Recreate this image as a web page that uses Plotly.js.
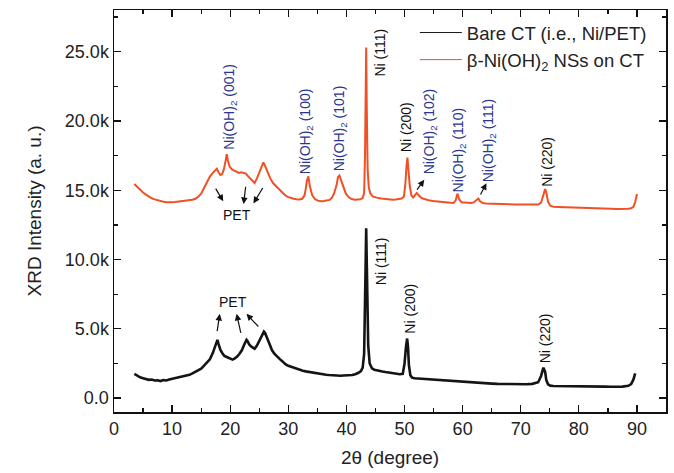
<!DOCTYPE html>
<html>
<head>
<meta charset="utf-8">
<script src="https://cdn.plot.ly/plotly-3.0.1.min.js"></script>
<style>html,body{margin:0;padding:0;background:#fff;}#chart{width:674px;height:473px;}</style>
</head>
<body>
<div id="chart"></div>
<script>
// ---- data ----
const bareX = [3.5,4.0,4.5,5.0,5.5,6.0,6.5,7.0,7.5,8.0,8.5,9.0,9.5,10.0,10.5,11.0,11.5,12.0,12.5,13.0,13.5,14.0,14.5,15.0,15.5,16.0,16.5,17.0,17.3,17.6,17.8,18.0,18.3,18.7,19.0,19.5,20.0,20.4,20.8,21.2,21.6,22.0,22.4,22.8,23.0,23.3,23.7,24.2,24.6,25.0,25.4,25.8,26.0,26.4,26.8,27.2,27.6,28.0,28.5,29.0,29.5,30.0,30.5,31.0,31.5,32.0,32.5,33.0,33.5,34.0,34.5,35.0,35.5,36.0,36.5,37.0,37.5,38.0,38.5,39.0,39.5,40.0,40.5,41.0,41.5,42.0,42.5,42.8,43.05,43.2,43.3,43.4,43.55,43.75,44.0,44.4,44.8,45.2,45.7,46.2,46.7,47.2,47.7,48.2,48.7,49.2,49.7,50.0,50.25,50.45,50.6,50.75,51.0,51.3,51.7,52.3,53.0,54.0,55.0,56.0,57.0,58.0,59.0,60.0,61.0,62.0,63.0,64.0,65.0,66.0,67.0,68.0,69.0,70.0,71.0,72.0,73.0,73.5,73.9,74.2,74.4,74.7,75.1,75.6,76.5,77.5,78.5,79.5,80.5,81.5,82.5,83.5,84.5,85.5,86.5,87.5,88.5,89.0,89.4,89.7,90.0];
const bareY = [1750,1620,1500,1440,1380,1320,1340,1270,1290,1230,1300,1270,1350,1400,1420,1470,1500,1550,1600,1680,1780,1880,2000,2130,2340,2540,2800,3250,3650,4050,4200,3900,3500,3200,3050,2950,2850,2780,2870,3000,3200,3450,3850,4200,4100,3850,3700,3570,3800,4100,4500,4800,4700,4250,3850,3450,3200,3000,2830,2650,2450,2330,2250,2170,2100,2030,1980,1930,1890,1850,1810,1770,1750,1710,1690,1670,1650,1640,1630,1620,1630,1640,1650,1670,1730,1810,1950,2200,3200,6000,9500,12250,8500,3800,2500,2150,2050,2000,1960,1920,1880,1840,1810,1780,1750,1720,1750,2500,3700,4300,3700,2400,1650,1480,1430,1410,1390,1360,1330,1300,1270,1250,1230,1180,1150,1130,1110,1080,1050,1030,1020,1010,1000,990,1000,1030,1150,1600,2200,1900,1300,1000,900,880,880,870,870,860,870,850,840,830,830,820,810,830,890,1010,1350,1780];

const nsX = [3.5,4.0,4.5,5.0,5.5,6.0,6.5,7.0,7.5,8.0,8.5,9.0,9.5,10.0,10.5,11.0,11.5,12.0,12.5,13.0,13.5,14.0,14.5,15.0,15.5,16.0,16.5,17.0,17.4,17.7,18.0,18.3,18.6,18.9,19.2,19.4,19.6,19.9,20.3,20.7,21.1,21.5,21.9,22.3,22.7,23.1,23.5,23.9,24.2,24.6,25.0,25.4,25.7,26.0,26.4,26.9,27.4,27.9,28.4,28.9,29.4,29.9,30.4,30.9,31.4,31.9,32.4,32.8,33.0,33.2,33.45,33.7,34.1,34.6,35.1,35.6,36.1,36.6,37.1,37.5,37.9,38.3,38.55,38.8,39.1,39.5,39.9,40.4,40.9,41.4,41.9,42.4,42.8,43.05,43.2,43.3,43.4,43.5,43.65,43.85,44.1,44.5,45.0,45.5,46.0,46.5,47.0,47.5,48.0,48.5,49.0,49.5,49.9,50.15,50.35,50.5,50.65,50.9,51.2,51.5,51.8,52.1,52.5,52.9,53.4,53.9,54.4,54.9,55.4,55.9,56.4,56.9,57.4,57.9,58.4,58.8,59.1,59.4,59.8,60.4,60.9,61.4,61.9,62.4,62.7,63.0,63.5,64.0,65.0,66.0,67.0,68.0,69.0,70.0,71.0,72.0,73.0,73.5,73.9,74.2,74.4,74.7,75.1,75.6,76.5,77.5,78.5,79.5,80.5,81.5,82.5,83.5,84.5,85.5,86.5,87.5,88.5,89.0,89.4,89.7,90.0];
const nsY = [15450,15250,15000,14830,14680,14540,14420,14340,14270,14220,14170,14140,14110,14130,14150,14170,14200,14230,14250,14270,14310,14380,14530,14750,15150,15550,15980,16250,16420,16550,16300,16100,16150,16500,17100,17600,17150,16700,16500,16400,16300,16250,16300,16230,16200,16000,15850,15650,15520,15850,16250,16750,17000,16750,16350,15850,15500,15280,15080,14850,14650,14520,14440,14390,14350,14330,14380,14650,15100,15700,16000,15300,14650,14350,14250,14200,14220,14250,14300,14450,14800,15350,15950,16050,15650,15150,14750,14490,14360,14320,14310,14340,14450,14800,17500,22500,25300,21000,16500,15200,14800,14550,14470,14430,14400,14370,14350,14330,14320,14330,14350,14400,14550,15500,16800,17350,16600,15300,14600,14480,14650,14800,14600,14450,14370,14300,14250,14220,14190,14160,14140,14120,14100,14090,14080,14250,14750,14350,14130,14100,14090,14080,14120,14300,14400,14200,14070,14050,14020,14000,13990,13980,13970,13960,13950,13940,13960,14100,14600,15080,14850,14150,13880,13810,13790,13780,13770,13760,13760,13740,13720,13700,13690,13660,13640,13640,13660,13700,13800,14150,14720];

const yTickVals = [0,5000,10000,15000,20000,25000];
const yTickText = ["0.0","5.0k","10.0k","15.0k","20.0k","25.0k"];
const xTickVals = [0,10,20,30,40,50,60,70,80,90];
const seriesNames = ["Bare CT (i.e., Ni/PET)","β-Ni(OH)<sub>2</sub> NSs on CT"];

// labels: [text, x, y, colourKey]
const peakLabels = [
  ["Ni(OH)<sub>2</sub> (001)",19.9,21000,"b"],
  ["Ni(OH)<sub>2</sub> (100)",33.1,19280,"b"],
  ["Ni(OH)<sub>2</sub> (101)",38.8,19500,"b"],
  ["Ni (111)",45.7,24900,"k"],
  ["Ni (200)",50.3,19570,"k"],
  ["Ni(OH)<sub>2</sub> (102)",54.3,19210,"b"],
  ["Ni(OH)<sub>2</sub> (110)",59.3,17910,"b"],
  ["Ni(OH)<sub>2</sub> (111)",64.6,18630,"b"],
  ["Ni (220)",74.5,17040,"k"],
  ["Ni (111)",46.0,9900,"k"],
  ["Ni (200)",50.9,6440,"k"],
  ["Ni (220)",74.1,4280,"k"]
];
const petLabels = [["PET",21.1,13220],["PET",20.5,6970]];
// arrows: [tailX, tailY, headX, headY]
const arrows = [
  [17.3,15260,18.8,14200],
  [22.7,15390,22.3,14000],
  [25.8,15300,24.0,14050],
  [17.7,4690,18.2,6080],
  [21.9,4570,21.1,6080],
  [25.1,5050,22.8,6080],
  [51.9,14900,53.4,15750],
  [62.9,14540,64.1,15510]
];

const FONT = "Liberation Sans, Arial, Helvetica, sans-serif";
const colours = {b:"#2a3592", k:"#111111"};
const lineColours = ["#141414", "#f05024"];

const annotations = [];
peakLabels.forEach(p => annotations.push({
  x:p[1], y:p[2], xref:"x", yref:"y", text:p[0], showarrow:false, textangle:-90,
  font:{family:FONT, size:14, color:colours[p[3]]}
}));
petLabels.forEach(p => annotations.push({
  x:p[1], y:p[2], xref:"x", yref:"y", text:p[0], showarrow:false,
  font:{family:FONT, size:14, color:"#111"}
}));
arrows.forEach(a => annotations.push({
  x:a[2], y:a[3], ax:a[0], ay:a[1], xref:"x", yref:"y", axref:"x", ayref:"y",
  text:" ", showarrow:true, arrowhead:2, arrowsize:1.1, arrowwidth:1.2, arrowcolor:"#111",
  font:{size:1}
}));

const traces = [
  {x:bareX, y:bareY, type:"scatter", mode:"lines", name:seriesNames[0], showlegend:false,
   line:{color:lineColours[0], width:2.6}},
  {x:nsX, y:nsY, type:"scatter", mode:"lines", name:seriesNames[1], showlegend:false,
   line:{color:lineColours[1], width:2}},
  // legend entries (thin sample lines as in the reference)
  {x:[null], y:[null], type:"scatter", mode:"lines", name:seriesNames[0],
   line:{color:lineColours[0], width:1}},
  {x:[null], y:[null], type:"scatter", mode:"lines", name:seriesNames[1],
   line:{color:lineColours[1], width:1}}
];

const axisCommon = {
  showline:true, linecolor:"#111", linewidth:1.5, mirror:"ticks",
  ticks:"inside", ticklen:7, tickwidth:1.3, tickcolor:"#111",
  showgrid:false, zeroline:false,
  tickfont:{family:FONT, size:18, color:"#222"}
};

const layout = {
  width:674, height:473,
  margin:{l:114, r:8, t:10, b:61},
  paper_bgcolor:"#fff", plot_bgcolor:"#fff",
  showlegend:true,
  legend:{x:0.545, y:0.99, xanchor:"left", yanchor:"top", bgcolor:"rgba(0,0,0,0)",
    font:{family:FONT, size:18.5, color:"#222"}, itemwidth:42, tracegroupgap:0},
  xaxis:Object.assign({}, axisCommon, {
    range:[0,95], tickvals:xTickVals,
    minor:{ticks:"inside", ticklen:4, tickcolor:"#111", dtick:5, tick0:0},
    title:{text:"2θ (degree)", font:{family:FONT, size:19, color:"#222"}, standoff:12}
  }),
  yaxis:Object.assign({}, axisCommon, {
    range:[-1000,28000], tickvals:yTickVals, ticktext:yTickText,
    minor:{ticks:"inside", ticklen:4, tickcolor:"#111", dtick:2500, tick0:0},
    title:{text:"XRD Intensity (a. u.)", font:{family:FONT, size:19, color:"#222"}, standoff:18}
  }),
  annotations:annotations
};

Plotly.newPlot("chart", traces, layout, {displayModeBar:false, staticPlot:true});
</script>
</body>
</html>
